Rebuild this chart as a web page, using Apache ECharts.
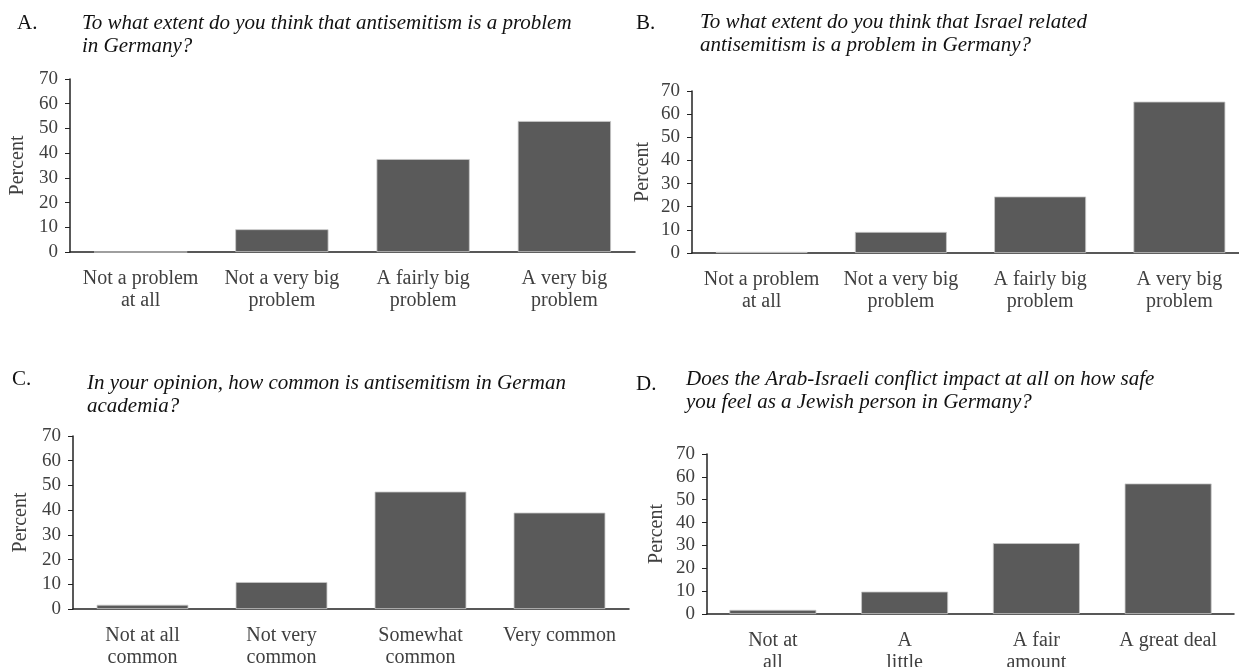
<!DOCTYPE html>
<html>
<head>
<meta charset="utf-8">
<script src="https://cdn.jsdelivr.net/npm/echarts@6/dist/echarts.min.js"></script>
<style>
  html, body { margin: 0; padding: 0; background: #fff; }
  #chart { width: 1239px; height: 667px; }
</style>
</head>
<body>
<div id="chart"></div>
<script>
// data
var catsA = ['Not a problem\nat all', 'Not a very big\nproblem', 'A fairly big\nproblem', 'A very big\nproblem'];
var valsA = [0, 9.2, 37.6, 53.0];
var catsB = ['Not a problem\nat all', 'Not a very big\nproblem', 'A fairly big\nproblem', 'A very big\nproblem'];
var valsB = [0.5, 9.1, 24.4, 65.4];
var catsC = ['Not at all\ncommon', 'Not very\ncommon', 'Somewhat\ncommon', 'Very common'];
var valsC = [1.7, 10.9, 47.5, 39.0];
var catsD = ['Not at\nall', 'A\nlittle', 'A fair\namount', 'A great deal'];
var valsD = [1.8, 9.8, 31.0, 57.1];
var yMin = 0, yMax = 70, yStep = 10;

var letters = ['A.', 'B.', 'C.', 'D.'];
var questions = [
    'To what extent do you think that antisemitism is a problem\nin Germany?',
    'To what extent do you think that Israel related\nantisemitism is a problem in Germany?',
    'In your opinion, how common is antisemitism in German\nacademia?',
    'Does the Arab-Israeli conflict impact at all on how safe\nyou feel as a Jewish person in Germany?'
];

var FONT = '"Liberation Serif", "DejaVu Serif", serif';
var TXT = '#404040';
var BAR = '#5a5a5a';

var myChart = echarts.init(document.getElementById('chart'));

// panel placement (labels may run off the canvas like in the source image)
var grids = [
    { left: 70, top: 79, width: 565, height: 173, outerBoundsMode: 'none' },
    { left: 692, top: 91, width: 557, height: 162, outerBoundsMode: 'none' },
    { left: 73, top: 436, width: 556, height: 173, outerBoundsMode: 'none' },
    { left: 707, top: 454, width: 527, height: 160, outerBoundsMode: 'none' }
];
var letterPos = [[17, 13], [636, 13], [12, 369], [636, 374]];
var questionPos = [[82, 12], [700, 11], [87, 372], [686, 368]];
var nameGaps = [42, 39, 42, 40];
var cats = [catsA, catsB, catsC, catsD];
var vals = [valsA, valsB, valsC, valsD];

var titles = [];
for (var i = 0; i < 4; i++) {
    titles.push({
        text: letters[i],
        left: letterPos[i][0], top: letterPos[i][1],
        padding: 0,
        textStyle: { fontFamily: FONT, fontSize: 21, fontWeight: 'normal', color: '#111' }
    });
    titles.push({
        text: questions[i],
        left: questionPos[i][0], top: questionPos[i][1],
        padding: 0,
        textStyle: { fontFamily: FONT, fontSize: 21, fontStyle: 'italic', fontWeight: 'normal', color: '#111', lineHeight: 23 }
    });
}

var xAxes = [], yAxes = [], series = [];
for (var k = 0; k < 4; k++) {
    xAxes.push({
        type: 'category',
        gridIndex: k,
        data: cats[k],
        axisLine: { lineStyle: { color: '#222', width: 1.5 } },
        axisTick: { show: false },
        axisLabel: { fontFamily: FONT, fontSize: 20, color: TXT, lineHeight: 22, margin: 16, interval: 0 }
    });
    yAxes.push({
        type: 'value',
        gridIndex: k,
        min: yMin, max: yMax, interval: yStep,
        name: 'Percent',
        nameLocation: 'middle',
        nameRotate: 90,
        nameGap: nameGaps[k],
        nameTextStyle: { fontFamily: FONT, fontSize: 20, color: TXT },
        axisLine: { show: true, lineStyle: { color: '#222', width: 1.5 } },
        axisTick: { show: true, length: 5, lineStyle: { color: '#222' } },
        splitLine: { show: false },
        axisLabel: { fontFamily: FONT, fontSize: 19, color: TXT, margin: 12 }
    });
    series.push({
        type: 'bar',
        xAxisIndex: k,
        yAxisIndex: k,
        data: vals[k],
        barCategoryGap: '34%',
        itemStyle: { color: BAR, borderColor: '#c8c8c8', borderWidth: 0.8 },
        silent: true
    });
}

var option = {
    animation: false,
    backgroundColor: '#fff',
    title: titles,
    grid: grids,
    xAxis: xAxes,
    yAxis: yAxes,
    series: series
};
myChart.setOption(option);
</script>
</body>
</html>
